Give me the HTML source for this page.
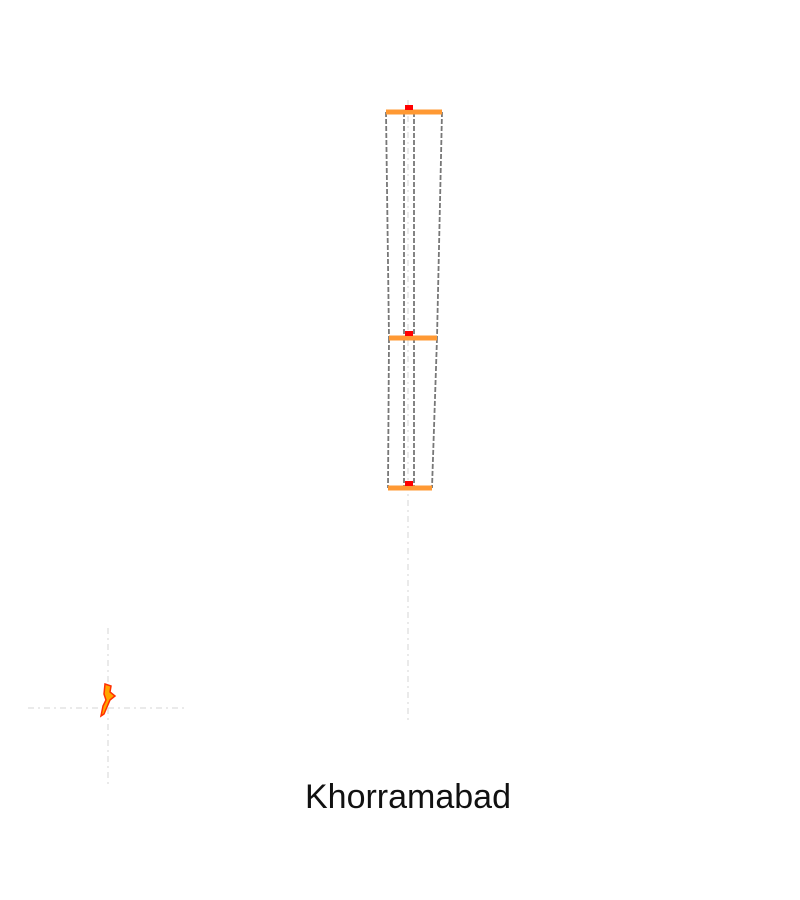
<!DOCTYPE html>
<html><head><meta charset="utf-8"><style>
html,body{margin:0;padding:0;background:#fff;width:800px;height:900px;overflow:hidden}
svg{display:block}
</style></head><body>
<svg id="chart" width="800" height="900">
<g id="axes">
<line x1="408" y1="100" x2="408" y2="722" stroke="#ddd" stroke-width="1.2" stroke-dasharray="6,4,2,4"/>
<line x1="28" y1="708" x2="188" y2="708" stroke="#ddd" stroke-width="1.2" stroke-dasharray="6,4,2,4"/>
<line x1="108" y1="628" x2="108" y2="788" stroke="#ddd" stroke-width="1.2" stroke-dasharray="6,4,2,4"/>
</g>
<g id="marks"></g>
<polygon points="105,684 111,686 110,692 115,696 110,700 104,714 101,716 103,706 106,700 104,694" fill="#ffa500" stroke="#ff3000" stroke-width="1.5"/>
<text x="408" y="808" text-anchor="middle" font-family="Liberation Sans, sans-serif" font-size="34" fill="#111">Khorramabad</text>
</svg>
<script>
const levels = [0, 1, 2];
const leftEdge = [-22, -19, -20];
const rightEdge = [34, 29, 24];
const innerLeft = [-4, -4, -4];
const innerRight = [6, 6, 6];
const ns = 'http://www.w3.org/2000/svg';
const g = document.getElementById('marks');
const cx = 408;
function yScale(v){ return 112 + [0,226,376][v]; }
function xScale(v){ return cx + v; }
function mk(tag, attrs){ const e=document.createElementNS(ns,tag); for(const k in attrs) e.setAttribute(k,attrs[k]); g.appendChild(e); return e; }
const cols=[leftEdge,innerLeft,innerRight,rightEdge];
cols.forEach((c,ci)=>{
  for(let i=0;i<levels.length-1;i++){
    const l=mk('line',{x1:xScale(c[i]),y1:yScale(levels[i]),x2:xScale(c[i+1]),y2:yScale(levels[i+1]),stroke:'#777','stroke-width':1.8,'stroke-dasharray':'5,2'});
    
    
  }
});
levels.forEach((lv,i)=>{
  const y=yScale(lv);
  const r=mk('rect',{x:xScale(leftEdge[i]),y:y-2.5,width:rightEdge[i]-leftEdge[i],height:5,fill:'#ff9933'});
  
  
  const m=mk('rect',{x:cx-3,y:y-7,width:8,height:5,fill:'#ff0000'});
  
  
});
</script>
</body></html>
